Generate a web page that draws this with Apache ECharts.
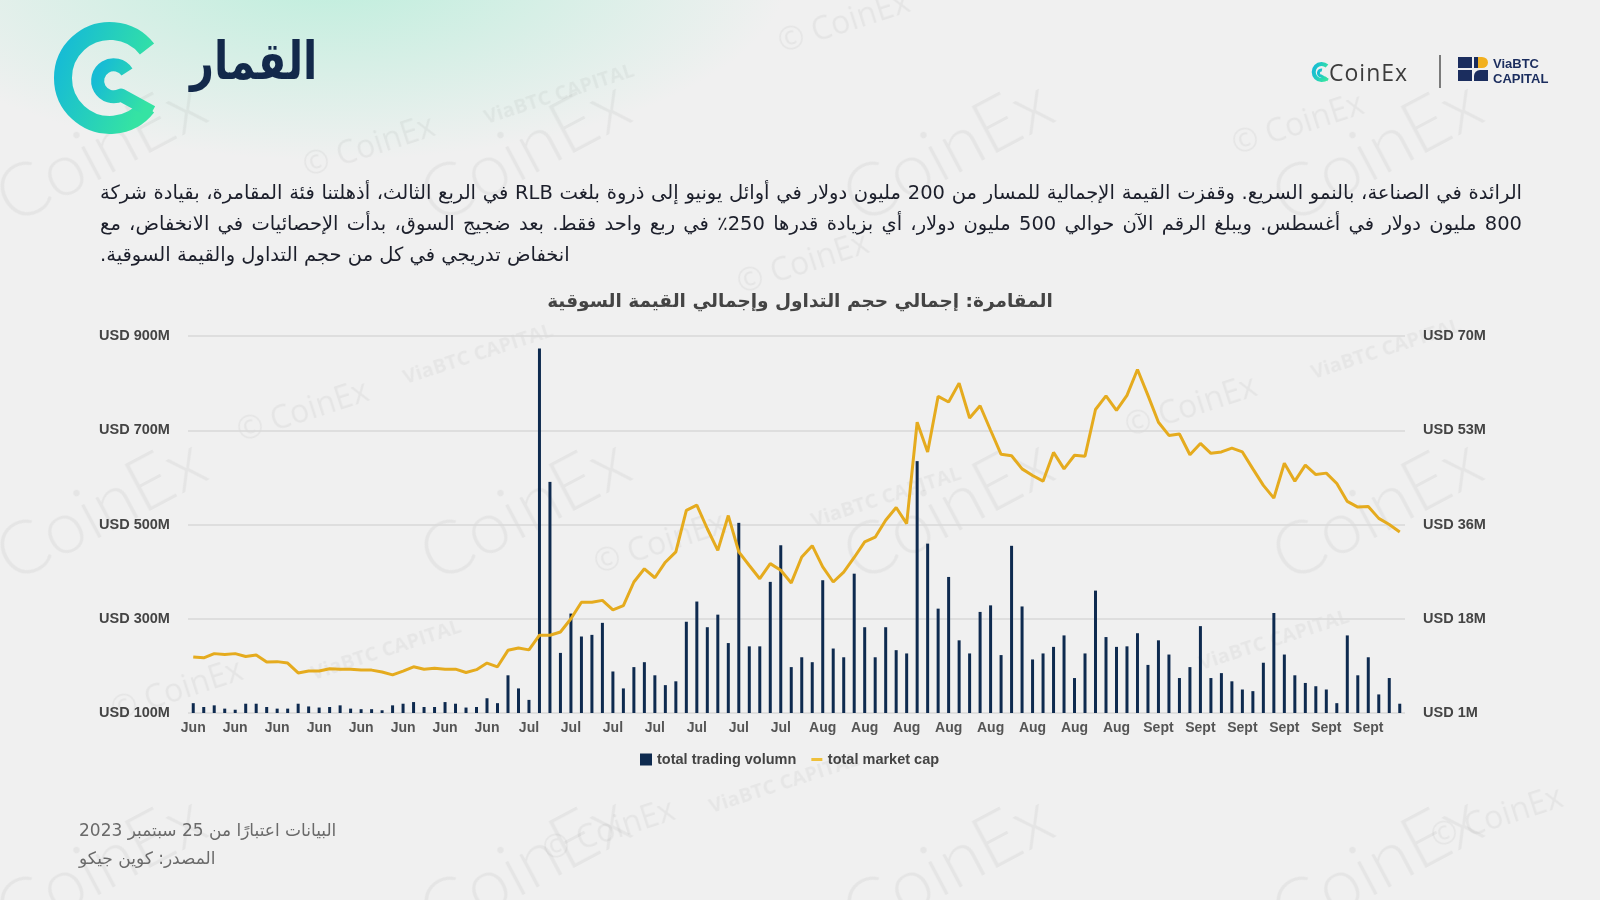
<!DOCTYPE html>
<html lang="ar">
<head>
<meta charset="utf-8">
<title>القمار</title>
<script src="https://cdn.jsdelivr.net/npm/echarts@6/dist/echarts.min.js"></script>
<style>
  html, body { margin: 0; padding: 0; }
  body { width: 1600px; height: 900px; overflow: hidden; position: relative; background: #f0f0f0; font-family: 'Liberation Sans', Arial, sans-serif; }
  .glow { position: absolute; left: 0; top: 0; width: 1600px; height: 900px;
    background: radial-gradient(ellipse 460px 190px at 330px -30px, #bdeedc 0%, rgba(240,240,240,0) 100%); }
  #deco { position: absolute; left: 0; top: 0; z-index: 0; }
  #chart { position: absolute; left: 0; top: 0; width: 1600px; height: 900px; z-index: 1; }
  .heading { position: absolute; left: 190px; top: 31px; z-index: 2; font: bold 52px 'DejaVu Sans', sans-serif; color: #13294b;
    transform: scaleX(0.8); transform-origin: left top; }
  .para { position: absolute; left: 100px; top: 177px; width: 1422px; z-index: 2; font: 19.5px 'DejaVu Sans', sans-serif; color: #1c1f2b; }
  .para .ln { white-space: nowrap; height: 31px; line-height: 31px; }
  .para .full { text-align: justify; text-align-last: justify; }
  .para .last { text-align: left; }
  .foot { position: absolute; left: 79px; top: 816px; z-index: 2; font: 17px 'DejaVu Sans', sans-serif; color: #6a6a6a; line-height: 28px; text-align: left; }
</style>
</head>
<body>
<div class="glow"></div>

<svg id="deco" width="1600" height="900" viewBox="0 0 1600 900">
  <defs>
    <linearGradient id="cx" x1="0" y1="0.2" x2="1" y2="0.6">
      <stop offset="0" stop-color="#17bcd4"/>
      <stop offset="1" stop-color="#35e3a3"/>
    </linearGradient>
  </defs>
  <!-- watermarks -->
  <g fill="#000" opacity="0.045" font-family="Lato, 'Open Sans', sans-serif" font-weight="300" font-size="74">
    <text transform="translate(112,173) rotate(-28)" text-anchor="middle">CoinEx</text>
    <text transform="translate(536,173) rotate(-28)" text-anchor="middle">CoinEx</text>
    <text transform="translate(959,173) rotate(-28)" text-anchor="middle">CoinEx</text>
    <text transform="translate(1388,173) rotate(-28)" text-anchor="middle">CoinEx</text>
    <text transform="translate(112,531) rotate(-28)" text-anchor="middle">CoinEx</text>
    <text transform="translate(536,531) rotate(-28)" text-anchor="middle">CoinEx</text>
    <text transform="translate(959,531) rotate(-28)" text-anchor="middle">CoinEx</text>
    <text transform="translate(1388,531) rotate(-28)" text-anchor="middle">CoinEx</text>
    <text transform="translate(112,888) rotate(-28)" text-anchor="middle">CoinEx</text>
    <text transform="translate(536,888) rotate(-28)" text-anchor="middle">CoinEx</text>
    <text transform="translate(959,888) rotate(-28)" text-anchor="middle">CoinEx</text>
    <text transform="translate(1388,888) rotate(-28)" text-anchor="middle">CoinEx</text>
  </g>
  <g fill="#000" opacity="0.045" font-family="'Open Sans', sans-serif" font-size="32">
    <text transform="translate(847,32) rotate(-18)" text-anchor="middle">© CoinEx</text>
    <text transform="translate(372,156) rotate(-18)" text-anchor="middle">© CoinEx</text>
    <text transform="translate(1301,134) rotate(-18)" text-anchor="middle">© CoinEx</text>
    <text transform="translate(306,421) rotate(-18)" text-anchor="middle">© CoinEx</text>
    <text transform="translate(1194,416) rotate(-18)" text-anchor="middle">© CoinEx</text>
    <text transform="translate(806,273) rotate(-18)" text-anchor="middle">© CoinEx</text>
    <text transform="translate(663,553) rotate(-18)" text-anchor="middle">© CoinEx</text>
    <text transform="translate(612,840) rotate(-18)" text-anchor="middle">© CoinEx</text>
    <text transform="translate(1500,827) rotate(-18)" text-anchor="middle">© CoinEx</text>
    <text transform="translate(180,700) rotate(-18)" text-anchor="middle">© CoinEx</text>
  </g>
  <g fill="#000" opacity="0.04" font-family="'Open Sans', sans-serif" font-size="20" font-weight="bold">
    <text transform="translate(561,100) rotate(-18)" text-anchor="middle">ViaBTC CAPITAL</text>
    <text transform="translate(480,360) rotate(-18)" text-anchor="middle">ViaBTC CAPITAL</text>
    <text transform="translate(1388,355) rotate(-18)" text-anchor="middle">ViaBTC CAPITAL</text>
    <text transform="translate(888,503) rotate(-18)" text-anchor="middle">ViaBTC CAPITAL</text>
    <text transform="translate(388,656) rotate(-18)" text-anchor="middle">ViaBTC CAPITAL</text>
    <text transform="translate(1276,646) rotate(-18)" text-anchor="middle">ViaBTC CAPITAL</text>
    <text transform="translate(786,789) rotate(-18)" text-anchor="middle">ViaBTC CAPITAL</text>
  </g>

  <!-- big CoinEx mark -->
  <g fill="none" stroke="url(#cx)">
    <path d="M147,49 A47,47 0 1 0 147,106.9" stroke-width="18"/>
    <path d="M127,72 A16,16 0 1 0 121,95 L152,112" stroke-width="13" stroke-linejoin="round"/>
  </g>

  <!-- header right logos -->
  <g fill="none" stroke="url(#cx)">
    <path d="M1327,66 A8,8 0 1 0 1327,78" stroke-width="4"/>
    <path d="M1322,70 A3,3 0 1 0 1321,76 L1328,80" stroke-width="3"/>
  </g>
  <text x="1329" y="81" font-family="'Open Sans', sans-serif" font-size="23" letter-spacing="1" fill="#3c3c3c">CoinEx</text>
  <line x1="1440" y1="55" x2="1440" y2="88" stroke="#555" stroke-width="1.5"/>
  <g>
    <rect x="1458" y="57" width="14" height="11" fill="#1b2d5e"/>
    <path d="M1474,57 h8 a6,5.5 0 0 1 0,11 h-8 z" fill="#f2b01e"/>
    <rect x="1474" y="57" width="4" height="11" fill="#1b2d5e"/>
    <rect x="1458" y="70" width="14" height="11" fill="#1b2d5e"/>
    <path d="M1474,81 v-5 a6,6 0 0 1 6,-6 h8 v11 z" fill="#1b2d5e"/>
  </g>
  <text x="1493" y="68" font-family="'Liberation Sans', sans-serif" font-size="13" font-weight="bold" fill="#1b2d5e">ViaBTC</text>
  <text x="1493" y="83" font-family="'Liberation Sans', sans-serif" font-size="13" font-weight="bold" fill="#1b2d5e">CAPITAL</text>
</svg>

<div class="heading" dir="rtl">القمار</div>

<div class="para" dir="rtl">
  <div class="ln full">الرائدة في الصناعة، بالنمو السريع. وقفزت القيمة الإجمالية للمسار من 200 مليون دولار في أوائل يونيو إلى ذروة بلغت RLB في الربع الثالث، أذهلتنا فئة المقامرة، بقيادة شركة</div>
  <div class="ln full">800 مليون دولار في أغسطس. ويبلغ الرقم الآن حوالي 500 مليون دولار، أي بزيادة قدرها 250٪ في ربع واحد فقط. بعد ضجيج السوق، بدأت الإحصائيات في الانخفاض، مع</div>
  <div class="ln last">انخفاض تدريجي في كل من حجم التداول والقيمة السوقية.</div>
</div>

<div class="foot" dir="rtl">
  <div>البيانات اعتبارًا من 25 سبتمبر 2023</div>
  <div>المصدر: كوين جيكو</div>
</div>

<div id="chart"></div>

<script>
// daily values, 2 Jun 2023 – 25 Sep 2023 (USD millions)
const volume = [
  2.8, 2.1, 2.4, 1.8, 1.6, 2.7, 2.7, 2.1, 1.8, 1.8, 2.7, 2.2, 2.0, 2.1, 2.4, 1.8, 1.7, 1.7, 1.5, 2.4,
  2.7, 3.0, 2.1, 2.1, 3.0, 2.7, 2.0, 2.1, 3.7, 2.8,
  7.9, 5.5, 3.4, 67.7, 43.3, 12.0, 19.2, 15.0, 15.3, 17.5, 8.6, 5.5, 9.4, 10.3, 7.9, 6.1, 6.8, 17.7, 21.4, 16.7,
  19.0, 13.8, 35.8, 13.2, 13.2, 25.0, 31.7, 9.4, 11.2,
  10.3, 25.3, 12.8, 11.2, 26.5, 16.7, 11.2, 16.7, 12.5, 11.9, 47.1, 32.0, 20.1, 25.9, 14.3, 11.9, 19.5, 20.7, 11.6, 31.6,
  20.5, 10.8, 11.9, 13.1, 15.2, 7.4, 11.9, 23.4, 14.9, 13.1,
  13.2, 15.6, 9.8, 14.3, 11.7, 7.4, 9.4, 16.9, 7.4, 8.3, 6.8, 5.3, 5.0, 10.2, 19.3, 11.7, 7.9, 6.5, 5.9, 5.3,
  2.8, 15.2, 7.9, 11.2, 4.4, 7.4, 2.7
]
const marketCap = [
  219, 217, 226, 224, 226, 220, 223, 208, 209, 206, 185, 189, 189, 194, 193, 193, 191, 191, 187, 181,
  189, 198, 193, 195, 193, 193, 186, 192, 206, 198,
  233, 238, 234, 265, 265, 272, 300, 335, 335, 339, 319, 328, 378, 406, 387, 420, 442, 530, 541, 491,
  445, 519, 442, 413, 385, 417, 403, 376, 431,
  455, 410, 378, 399, 430, 463, 473, 509, 536, 502, 717, 654, 772, 760, 800, 726, 752, 700, 649, 646,
  618, 604, 592, 653, 618, 647, 645, 744, 773, 742,
  774, 829, 774, 717, 689, 692, 648, 672, 651, 654, 662, 654, 618, 583, 556, 630, 592, 626, 606, 609,
  587, 549, 537, 538, 513, 500, 484
]
const leftTicks = [100, 300, 500, 700, 900]
const rightTicks = [1, 18.25, 35.5, 52.75, 70]
const monthNames = { '06': 'Jun', '07': 'Jul', '08': 'Aug', '09': 'Sept' }

const start = Date.UTC(2023, 5, 2)
const days = volume.map((_, i) => new Date(start + i * 86400000).toISOString().slice(0, 10))

const labelFont = { fontFamily: 'Liberation Sans', fontWeight: 'bold', fontSize: 14.5 }

const myChart = echarts.init(document.getElementById('chart'))

myChart.setOption({
  animation: false,
  title: {
    text: 'المقامرة: إجمالي حجم التداول وإجمالي القيمة السوقية',
    left: 'center', top: 288,
    textStyle: { fontFamily: 'DejaVu Sans', fontWeight: 'bold', fontSize: 18.5, color: '#444' }
  },
  legend: {
    left: 635, top: 747, itemGap: 15, itemWidth: 12, itemHeight: 12,
    textStyle: { fontFamily: 'Liberation Sans', fontWeight: 'bold', fontSize: 14.5, color: '#444' },
    data: [
      { name: 'total trading volumn', icon: 'rect' },
      // short dash, padded with invisible points so it sits mid-height
      { name: 'total market cap', icon: 'path://M0,0h0.01v0.01h-0.01z M0,4.5h11v3h-11z M0,11.99h0.01v0.01h-0.01z', itemStyle: { color: '#efc03a' } }
    ]
  },
  grid: { left: 188, right: 195, top: 336, bottom: 187 },
  xAxis: {
    type: 'category', data: days,
    axisLine: { show: false }, axisTick: { show: false },
    axisLabel: { ...labelFont, fontSize: 14, interval: 3, margin: 8, color: '#555', formatter: v => monthNames[v.slice(5, 7)] }
  },
  yAxis: [
    {
      type: 'value', min: 100, max: 900, position: 'left',
      axisLine: { show: false },
      axisTick: { show: false, customValues: leftTicks },
      axisLabel: { ...labelFont, customValues: leftTicks, align: 'left', margin: 89, color: '#444', formatter: v => 'USD ' + v + 'M' },
      splitLine: { lineStyle: { color: '#d9d9d9', width: 1.5 } }
    },
    {
      type: 'value', min: 1, max: 70, position: 'right',
      axisLine: { show: false },
      axisTick: { show: false, customValues: rightTicks },
      axisLabel: { ...labelFont, customValues: rightTicks, margin: 18, color: '#444', formatter: v => 'USD ' + Math.round(v) + 'M' },
      splitLine: { show: false }
    }
  ],
  series: [
    {
      name: 'total trading volumn', type: 'bar', yAxisIndex: 1, data: volume,
      barWidth: 3, itemStyle: { color: '#0e2a4f' }
    },
    {
      name: 'total market cap', type: 'line', yAxisIndex: 0, data: marketCap,
      symbol: 'none', z: 3,
      lineStyle: { width: 3, color: '#e5ab1e' }, itemStyle: { color: '#e5ab1e' }
    }
  ]
})

window.addEventListener('resize', () => myChart.resize())
</script>
</body>
</html>
